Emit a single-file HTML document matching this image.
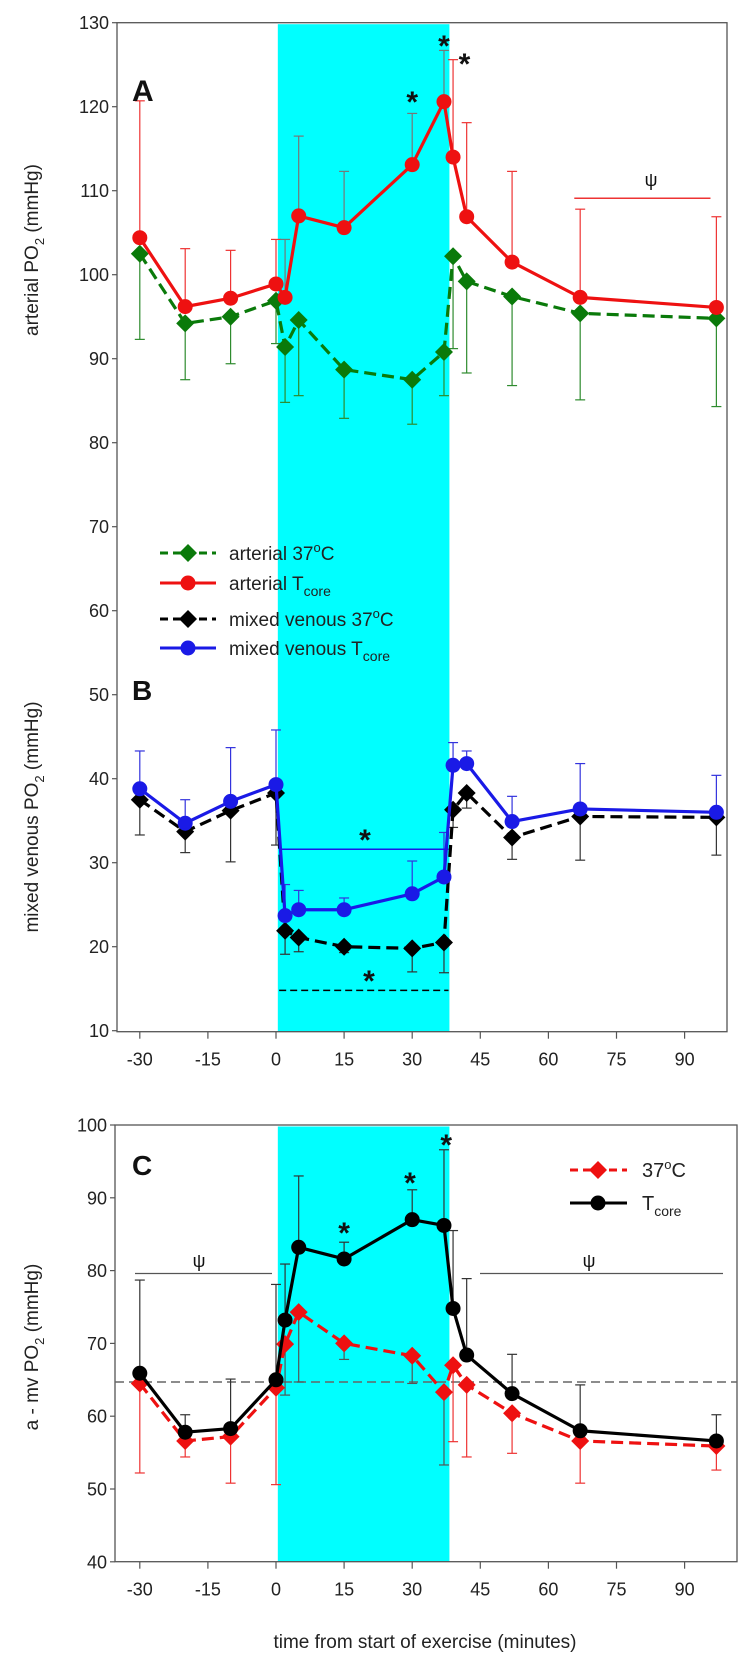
<!DOCTYPE html>
<html><head><meta charset="utf-8">
<style>
html,body{margin:0;padding:0;background:#fff;}
svg{display:block;font-family:"Liberation Sans",Arial,sans-serif;}
</style></head>
<body>
<svg id="chart" width="748" height="1660" viewBox="0 0 748 1660" xmlns="http://www.w3.org/2000/svg">
</svg>
<script>
// ---------- data ----------
const timesAB = [-30,-20,-10,0,2,5,15,30,37,39,42,52,67,97];
const artTcore = [104.4,96.2,97.2,98.9,97.3,107.0,105.6,113.1,120.6,114.0,106.9,101.5,97.3,96.1];
const artTcoreErr = [120.7,103.1,102.9,104.2,104.2,116.5,112.3,119.2,126.7,125.6,118.1,112.3,107.8,106.9];
const art37 = [102.5,94.2,95.0,96.9,91.4,94.6,88.7,87.5,90.8,102.2,99.2,97.4,95.4,94.8];
const art37Err = [92.3,87.5,89.4,91.8,84.8,85.6,82.9,82.2,85.6,91.2,88.3,86.8,85.1,84.3];
const mvTcore = [38.8,34.7,37.3,39.3,23.7,24.4,24.4,26.3,28.3,41.6,41.8,34.9,36.4,36.0];
const mvTcoreErr = [43.3,37.5,43.7,45.8,27.4,26.7,25.8,30.2,33.6,44.3,43.3,37.9,41.8,40.4];
const mv37 = [37.5,33.7,36.2,38.3,21.9,21.1,20.0,19.8,20.5,36.3,38.3,33.0,35.5,35.4];
const mv37Err = [33.3,31.2,30.1,32.1,19.1,19.4,19.3,17.0,16.9,34.2,36.5,30.4,30.3,30.9];
const diffTcore = [65.9,57.8,58.3,65.0,73.2,83.2,81.6,87.0,86.2,74.8,68.4,63.1,58.0,56.6];
const diffTcoreErr = [78.7,60.2,65.1,78.1,80.9,93.0,83.9,91.1,96.6,85.5,78.9,68.5,64.3,60.2];
const diff37 = [64.5,56.6,57.2,63.9,69.9,74.3,70.0,68.3,63.3,67.0,64.3,60.4,56.6,55.9];
const diff37Err = [52.2,54.4,50.8,50.6,62.9,64.7,67.8,64.5,53.3,56.5,54.4,54.9,50.8,52.6];
const xTicks = [-30,-15,0,15,30,45,60,75,90];
const yTicksAB = [10,20,30,40,50,60,70,80,90,100,110,120,130];
const yTicksC = [40,50,60,70,80,90,100];
const exerciseStart = 0.4, exerciseEnd = 38.2;

// ---------- scales ----------
const NS = "http://www.w3.org/2000/svg";
const svg = document.getElementById('chart');
function X(t){ return 276 + t*4.54; }
function YA(v){ return 22.7 + (130 - v)*8.4; }
function YC(v){ return 1125 + (100 - v)*7.28; }
function el(tag, attrs, parent){
  const e = document.createElementNS(NS, tag);
  for (const k in attrs) e.setAttribute(k, attrs[k]);
  (parent||svg).appendChild(e);
  return e;
}
function diamond(cx, cy, r){ return `${cx},${cy-r} ${cx+r},${cy} ${cx},${cy+r} ${cx-r},${cy}`; }

function drawPanel(Y, top, bottom, left, right, yTicks, name){
  const g = el('g', {});
  
  
  const band = el('rect', {x:X(exerciseStart), y:top+1.5, width:X(exerciseEnd)-X(exerciseStart), height:bottom-top-1.5, fill:'#00ffff'}, g);
  
  
  el('rect', {x:left, y:top, width:right-left, height:bottom-top, fill:'none', stroke:'#555', 'stroke-width':1.3}, g);
  yTicks.forEach(v=>{
    const yy = Y(v);
    el('line', {x1:left-5, x2:left, y1:yy, y2:yy, stroke:'#555', 'stroke-width':1.2}, g);
    const tx = el('text', {x:left-8, y:yy+6.5, 'text-anchor':'end', 'font-size':18, fill:'#222'}, g);
    tx.textContent = v;
    
    
  });
  xTicks.forEach(t=>{
    const xx = X(t);
    el('line', {x1:xx, x2:xx, y1:bottom, y2:bottom+7, stroke:'#555', 'stroke-width':1.2}, g);
    const tx = el('text', {x:xx, y:bottom+34, 'text-anchor':'middle', 'font-size':18, fill:'#222'}, g);
    tx.textContent = t;
    
    
  });
}

function inBand(t){ return t > exerciseStart && t < exerciseEnd; }

function drawSeries(Y, times, vals, errs, opt){
  const g = el('g', {});
  
  
  times.forEach((t,i)=>{
    const xx = X(t);
    const c = (inBand(t) && opt.errBand) ? opt.errBand : opt.errColor;
    el('line', {x1:xx, x2:xx, y1:Y(vals[i]), y2:Y(errs[i]), stroke:c, 'stroke-width':1.2}, g);
    const cap = el('line', {x1:xx-5, x2:xx+5, y1:Y(errs[i]), y2:Y(errs[i]), stroke:c, 'stroke-width':1.2}, g);
    
    
  });
  const pts = times.map((t,i)=>X(t)+','+Y(vals[i])).join(' ');
  const line = el('polyline', {points:pts, fill:'none', stroke:opt.color, 'stroke-width':3.2, 'stroke-linejoin':'round'}, g);
  if (opt.dash) line.setAttribute('stroke-dasharray', opt.dash);
  
  
  times.forEach((t,i)=>{
    let m;
    if (opt.marker === 'diamond') m = el('polygon', {points:diamond(X(t), Y(vals[i]), 9), fill:opt.color}, g);
    else m = el('circle', {cx:X(t), cy:Y(vals[i]), r:7.5, fill:opt.color}, g);
    
    
  });
}

function text(x, y, str, attrs, name){
  const t = el('text', Object.assign({x:x, y:y, fill:'#111'}, attrs));
  t.textContent = str;
  
  
  return t;
}
function star(x, y, name){ return text(x, y, '*', {'font-size':30, 'font-weight':'bold', 'text-anchor':'middle'}, name); }

// ---------- panels A & B ----------
drawPanel(YA, 22.7, 1031.7, 117, 727, yTicksAB, 'panel-ab');
drawSeries(YA, timesAB, art37, art37Err, {name:'arterial-37c', color:'#0a7a0a', errColor:'#2e8b2e', errBand:'#2e8b2e', marker:'diamond', dash:'12,6'});
drawSeries(YA, timesAB, artTcore, artTcoreErr, {name:'arterial-tcore', color:'#ee1111', errColor:'#ee3333', errBand:'#777', marker:'circle'});
drawSeries(YA, timesAB, mv37, mv37Err, {name:'mixed-venous-37c', color:'#000', errColor:'#333', errBand:'#333', marker:'diamond', dash:'12,6'});
drawSeries(YA, timesAB, mvTcore, mvTcoreErr, {name:'mixed-venous-tcore', color:'#1a1ae6', errColor:'#3333dd', errBand:'#3333dd', marker:'circle'});

text(132, 101, 'A', {'font-size':30, 'font-weight':'bold'}, 'panel-a-label');
star(X(30), 112, 'sig-star-a-30');
star(X(37), 56, 'sig-star-a-37');
star(X(41.5), 74, 'sig-star-a-39');
el('line', {x1:X(65.7), x2:X(95.7), y1:YA(109.1), y2:YA(109.1), stroke:'#ee3333', 'stroke-width':1.5});
text(651, 186, 'ψ', {'font-size':18, 'text-anchor':'middle'}, 'psi-symbol-a');

text(132, 700, 'B', {'font-size':28, 'font-weight':'bold'}, 'panel-b-label');
el('line', {x1:X(0.7), x2:X(38), y1:YA(31.6), y2:YA(31.6), stroke:'#1a1ae6', 'stroke-width':1.5});
star(365, 850, 'sig-star-mv-tcore');
el('line', {x1:X(0.7), x2:X(38), y1:YA(14.8), y2:YA(14.8), stroke:'#000', 'stroke-width':1.5, 'stroke-dasharray':'7,4'});
star(369, 991, 'sig-star-mv-37c');

const legAB = [
  {y:553, color:'#0a7a0a', marker:'diamond', dash:'8,5', main:'arterial 37', sup:'o', tail:'C', sub:''},
  {y:583, color:'#ee1111', marker:'circle', dash:'', main:'arterial T', sup:'', tail:'', sub:'core'},
  {y:619, color:'#000', marker:'diamond', dash:'8,5', main:'mixed venous 37', sup:'o', tail:'C', sub:''},
  {y:648, color:'#1a1ae6', marker:'circle', dash:'', main:'mixed venous T', sup:'', tail:'', sub:'core'}
];
legAB.forEach((d,i)=>{
  const g = el('g', {});
  
  
  const ln = el('line', {x1:160, x2:216, y1:d.y, y2:d.y, stroke:d.color, 'stroke-width':3}, g);
  if (d.dash) ln.setAttribute('stroke-dasharray', d.dash);
  if (d.marker==='diamond') el('polygon', {points:diamond(188, d.y, 9), fill:d.color}, g);
  else el('circle', {cx:188, cy:d.y, r:7.5, fill:d.color}, g);
  const t = el('text', {x:229, y:d.y+7, 'font-size':19, fill:'#222'}, g);
  t.appendChild(document.createTextNode(d.main));
  if (d.sup){ const s = el('tspan', {dy:-8, 'font-size':13}, t); s.textContent = d.sup; const c = el('tspan', {dy:8}, t); c.textContent = d.tail; }
  if (d.sub){ const s = el('tspan', {dy:6, 'font-size':14}, t); s.textContent = d.sub; }
});

// ---------- panel C ----------
drawPanel(YC, 1125, 1561.7, 115, 737, yTicksC, 'panel-c');
el('line', {x1:115, x2:737, y1:YC(64.7), y2:YC(64.7), stroke:'#666', 'stroke-width':1.5, 'stroke-dasharray':'9,5'});
drawSeries(YC, timesAB, diff37, diff37Err, {name:'avdiff-37c', color:'#ee1111', errColor:'#ee3333', errBand:'#555', marker:'diamond', dash:'12,6'});
drawSeries(YC, timesAB, diffTcore, diffTcoreErr, {name:'avdiff-tcore', color:'#000', errColor:'#333', errBand:'#333', marker:'circle'});
text(132, 1175, 'C', {'font-size':28, 'font-weight':'bold'}, 'panel-c-label');
star(X(15), 1243, 'sig-star-c-15');
star(X(29.5), 1193, 'sig-star-c-30');
star(X(37.5), 1155, 'sig-star-c-37');
el('line', {x1:135, x2:272, y1:1273.5, y2:1273.5, stroke:'#555', 'stroke-width':1.3});
el('line', {x1:480, x2:723, y1:1273.5, y2:1273.5, stroke:'#555', 'stroke-width':1.3});
text(199, 1267, 'ψ', {'font-size':18, 'text-anchor':'middle'}, 'psi-symbol-c-pre');
text(589, 1267, 'ψ', {'font-size':18, 'text-anchor':'middle'}, 'psi-symbol-c-post');
[{y:1170, color:'#ee1111', marker:'diamond', dash:'8,5', lab:'37', sup:'o', tail:'C', sub:''},
 {y:1203, color:'#000', marker:'circle', dash:'', lab:'T', sup:'', tail:'', sub:'core'}].forEach(d=>{
  const g = el('g', {});
  
  
  const ln = el('line', {x1:570, x2:627, y1:d.y, y2:d.y, stroke:d.color, 'stroke-width':3}, g);
  if (d.dash) ln.setAttribute('stroke-dasharray', d.dash);
  if (d.marker==='diamond') el('polygon', {points:diamond(598, d.y, 9), fill:d.color}, g);
  else el('circle', {cx:598, cy:d.y, r:7.5, fill:d.color}, g);
  const t = el('text', {x:642, y:d.y+7, 'font-size':20, fill:'#222'}, g);
  t.appendChild(document.createTextNode(d.lab));
  if (d.sup){ const s = el('tspan', {dy:-8, 'font-size':13}, t); s.textContent = d.sup; const c = el('tspan', {dy:8}, t); c.textContent = d.tail; }
  if (d.sub){ const s = el('tspan', {dy:6, 'font-size':14}, t); s.textContent = d.sub; }
});

// ---------- axis titles ----------
function yTitle(cx, cy, main, tail, name){
  const t = el('text', {x:0, y:0, 'font-size':19, fill:'#222', 'text-anchor':'middle', transform:`translate(${cx},${cy}) rotate(-90)`});
  t.appendChild(document.createTextNode(main));
  const s = el('tspan', {dy:6, 'font-size':13}, t); s.textContent = '2';
  const r = el('tspan', {dy:-6}, t); r.textContent = tail;
  
  
}
yTitle(38, 250, 'arterial PO', ' (mmHg)', 'y-axis-title-a');
yTitle(38, 817, 'mixed venous PO', ' (mmHg)', 'y-axis-title-b');
yTitle(38, 1347, 'a - mv PO', ' (mmHg)', 'y-axis-title-c');
text(425, 1648, 'time from start of exercise (minutes)', {'font-size':19, 'text-anchor':'middle', fill:'#222'}, 'x-axis-title');
</script>
</body></html>
